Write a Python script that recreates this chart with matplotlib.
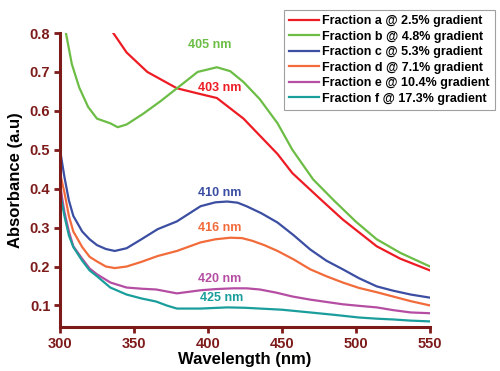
import numpy as np
import matplotlib.pyplot as plt

plt.rcParams['font.family'] = ['Liberation Sans', 'DejaVu Sans']

# Absorbance spectra of the fractions
wl_a = [336, 345, 359, 379, 395, 406, 424, 447, 457, 476, 491, 514, 530, 550]
abs_a = [0.80, 0.75, 0.70, 0.658, 0.643, 0.633, 0.58, 0.489, 0.44, 0.373, 0.321, 0.252, 0.22, 0.19]

wl_b = [304, 308, 313, 319, 325, 334, 339, 345, 356, 368, 379, 393, 406, 415, 424, 435, 447, 457, 471, 485, 500, 514, 530, 550]
abs_b = [0.80, 0.72, 0.66, 0.61, 0.58, 0.568, 0.558, 0.565, 0.592, 0.625, 0.658, 0.70, 0.712, 0.702, 0.674, 0.63, 0.568, 0.50, 0.424, 0.37, 0.315, 0.27, 0.235, 0.20]

wl_c = [300, 303, 306, 309, 315, 320, 325, 331, 337, 345, 355, 366, 379, 395, 405, 413, 420, 426, 436, 447, 458, 469, 480, 491, 502, 514, 525, 537, 550]
abs_c = [0.50, 0.43, 0.37, 0.33, 0.29, 0.27, 0.255, 0.245, 0.24, 0.247, 0.27, 0.296, 0.316, 0.355, 0.365, 0.367, 0.364, 0.355, 0.337, 0.313, 0.28, 0.244, 0.215, 0.193, 0.17, 0.149, 0.138, 0.128, 0.12]

wl_d = [300, 303, 306, 309, 315, 320, 325, 331, 337, 345, 355, 366, 379, 395, 405, 415, 423, 430, 438, 447, 458, 469, 480, 491, 502, 514, 525, 537, 550]
abs_d = [0.44, 0.39, 0.33, 0.29, 0.25, 0.225, 0.213, 0.2, 0.196, 0.2, 0.212, 0.227, 0.24, 0.262, 0.27, 0.274, 0.273, 0.266, 0.255, 0.24, 0.218, 0.193, 0.175, 0.159, 0.145, 0.134, 0.123, 0.111, 0.10]

wl_e = [300, 303, 306, 309, 315, 320, 325, 334, 345, 355, 365, 379, 395, 405, 417, 426, 435, 446, 457, 469, 480, 491, 502, 514, 525, 537, 550]
abs_e = [0.41, 0.34, 0.29, 0.252, 0.22, 0.195, 0.18, 0.159, 0.146, 0.143, 0.141, 0.131, 0.139, 0.142, 0.144, 0.144, 0.141, 0.133, 0.123, 0.115, 0.109, 0.103, 0.099, 0.095, 0.088, 0.082, 0.08]

wl_f = [300, 303, 306, 309, 315, 320, 325, 334, 345, 355, 365, 372, 379, 395, 413, 425, 435, 450, 469, 485, 502, 514, 525, 537, 550]
abs_f = [0.39, 0.33, 0.28, 0.25, 0.215, 0.19, 0.175, 0.146, 0.128, 0.118, 0.11, 0.10, 0.092, 0.092, 0.095, 0.094, 0.092, 0.089, 0.082, 0.076, 0.069, 0.066, 0.064, 0.061, 0.059]

labels = ["Fraction a @ 2.5% gradient", "Fraction b @ 4.8% gradient",
          "Fraction c @ 5.3% gradient", "Fraction d @ 7.1% gradient",
          "Fraction e @ 10.4% gradient", "Fraction f @ 17.3% gradient"]
colors = ["#ed1c24", "#6cbd45", "#3b4ea2", "#f26b3a", "#b54ea3", "#1a9e9c"]

peak_text = ["403 nm", "405 nm", "410 nm", "416 nm", "420 nm", "425 nm"]
peak_x = [408, 401, 408, 408, 408, 409]
peak_y = [0.66, 0.77, 0.39, 0.298, 0.167, 0.118]

axis_red = "#7d1a1a"

fig = plt.figure(figsize=(5, 3.71), dpi=100)
ax = fig.add_axes([0.12, 0.119, 0.74, 0.792])

series = [(wl_a, abs_a), (wl_b, abs_b), (wl_c, abs_c),
          (wl_d, abs_d), (wl_e, abs_e), (wl_f, abs_f)]
handles = []
for (x, y), c, lab in zip(series, colors, labels):
    h, = ax.plot(x, y, color=c, lw=1.6, label=lab)
    handles.append(h)

for t, x, y, c in zip(peak_text, peak_x, peak_y, colors):
    ax.text(x, y, t, color=c, fontsize=9, fontweight='bold', ha='center', va='center')

ax.set_xlim(300, 550)
ax.set_ylim(0.045, 0.8)
ax.set_xticks([300, 350, 400, 450, 500, 550])
ax.set_yticks([0.1, 0.2, 0.3, 0.4, 0.5, 0.6, 0.7, 0.8])

for s in ['top', 'right']:
    ax.spines[s].set_visible(False)
for s in ['left', 'bottom']:
    ax.spines[s].set_color(axis_red)
    ax.spines[s].set_linewidth(2.2)
ax.tick_params(axis='both', direction='out', length=4.5, width=2, color=axis_red,
               labelcolor=axis_red, labelsize=10.5, pad=2.5)
for lbl in ax.get_xticklabels() + ax.get_yticklabels():
    lbl.set_fontweight('bold')

ax.set_xlabel("Wavelength (nm)", fontsize=12, fontweight='bold', labelpad=1)
ax.set_ylabel("Absorbance (a.u)", fontsize=12, fontweight='bold', labelpad=5)

leg = fig.legend(handles=handles, loc='upper left', bbox_to_anchor=(0.567, 0.973),
                 prop={'weight': 'bold', 'size': 9}, frameon=True, fancybox=False,
                 handlelength=2.4, handletextpad=0.3, labelspacing=0.28,
                 borderpad=0.4, borderaxespad=0)
leg.get_frame().set_edgecolor('#888888')
leg.get_frame().set_linewidth(0.8)

fig.savefig("out.png", dpi=100)
